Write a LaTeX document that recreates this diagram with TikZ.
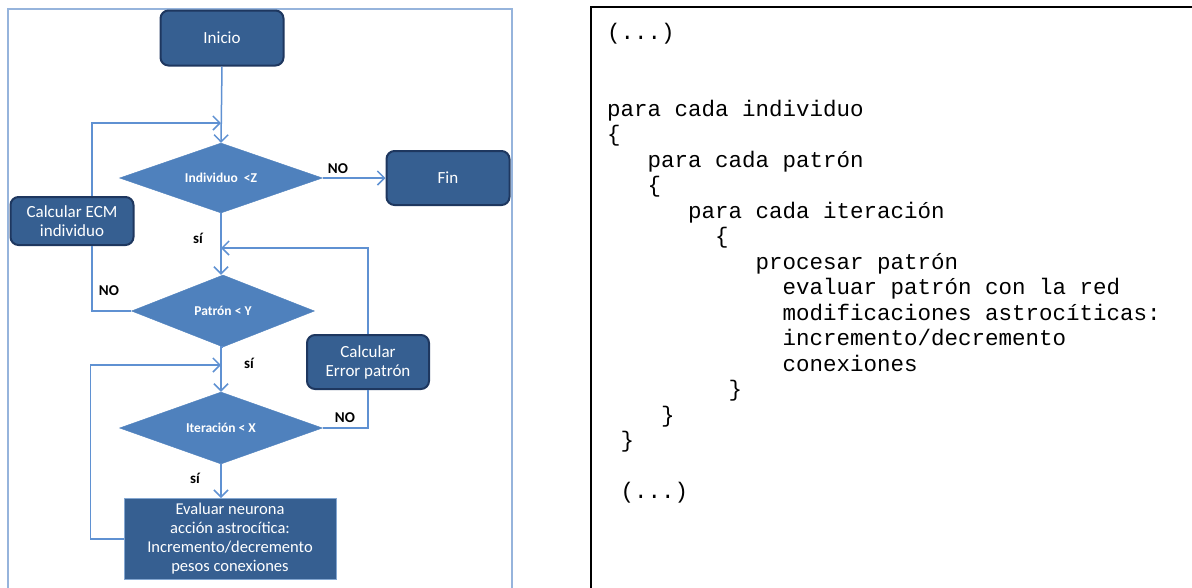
\documentclass[tikz,border=0pt]{standalone}
\usepackage{fontspec}
\setmainfont{Carlito}
\newfontfamily\codefont{Liberation Mono}
\usepackage{tikz}
\usetikzlibrary{positioning,calc,shapes.geometric,arrows.meta}
\definecolor{AzulOscuro}{RGB}{54,95,145}
\definecolor{AzulBorde}{RGB}{30,55,95}
\definecolor{AzulMedio}{RGB}{79,129,189}
\definecolor{AzulLinea}{RGB}{95,145,210}
\definecolor{AzulMarco}{RGB}{150,180,220}

\begin{document}
\begin{tikzpicture}[
		x=1pt, y=-1pt,
		caja/.style={draw=AzulBorde, line width=2pt, fill=AzulOscuro, rounded corners=8pt,
			text=white, align=center, font=\fontsize{17}{19}\selectfont},
		rombo/.style={diamond, draw=AzulMedio, fill=AzulMedio, inner sep=0pt, aspect=3,
			text=white, font=\bfseries\fontsize{13.5}{15}\selectfont},
		flecha/.style={draw=AzulLinea, line width=1.5pt, -{Straight Barb[length=7pt,width=14pt]}},
		linea/.style={draw=AzulLinea, line width=1.5pt},
		etiq/.style={font=\bfseries\fontsize{15}{17}\selectfont},
		codigo/.style={anchor=base west, inner sep=0pt, font=\codefont\fontsize{22.5}{25}\selectfont}
		]
		\useasboundingbox (0,0) rectangle (1192,587);
		
		% ===== marcos =====
		\draw[AzulMarco, line width=1.5pt] (8,600) -- (8,9) -- (512,9) -- (512,600);
		\draw[black, line width=1.5pt] (591,600) -- (591,7) -- (1200,7);
		
		% ===== diagrama de flujo =====
		\node[caja, minimum width=123pt, minimum height=55pt] (inicio) at (222,38) {Inicio};
		\node[rombo, minimum width=203pt, minimum height=70pt] (indiv) at (221,178) {Individuo \ <Z};
		\node[caja, minimum width=123pt, minimum height=54pt] (fin) at (448,178) {Fin};
		\node[caja, minimum width=123pt, minimum height=48pt] (ecm) at (72,221) {Calcular ECM\\individuo};
		\node[rombo, minimum width=183pt, minimum height=72pt] (patron) at (223,311) {Patrón < Y};
		\node[caja, minimum width=122pt, minimum height=54pt] (errpat) at (368,362) {Calcular\\Error patrón};
		\node[rombo, minimum width=203pt, minimum height=72pt] (iter) at (221,428) {Iteración < X};
		\node[draw=AzulMedio!70, line width=1pt, fill=AzulOscuro, text=white, align=center,
			font=\fontsize{16.5}{19}\selectfont, minimum width=212pt, minimum height=81pt]
			(evaluar) at (230,539) {Evaluar neurona\\acción astrocítica:\\Incremento/decremento\\pesos conexiones};
		
		\coordinate (j1) at (221,123);
		\coordinate (j2) at (221,248);
		\coordinate (j3) at (221,365);
		
		\draw[flecha] (inicio.south) -- (indiv.north);
		\draw[flecha] (indiv.east) -- (fin.west);
		\draw[flecha] (indiv.south) -- (indiv.south |- patron.north);
		\draw[flecha] (patron.south) -- (patron.south -| iter.north) -- (iter.north);
		\draw[flecha] (iter.south) -- (iter.south |- evaluar.north);
		
		% ===== lazos de retorno =====
		\draw[flecha] ($(ecm.north)+(20,0)$) |- (j1);
		\draw[linea] (patron.west) -| ($(ecm.south)+(20,0)$);
		\draw[flecha] (errpat.north) |- (j2);
		\draw[linea] (iter.east) -| (errpat.south);
		\draw[flecha] (evaluar.west) -- ++(-33,0) |- (j3);
		
		\node[etiq] (no1) at (338,169) {NO};
		\node[etiq] (si1) at (198,238) {sí};
		\node[etiq] (no2) at (109,291) {NO};
		\node[etiq] (si2) at (249,363) {sí};
		\node[etiq] (no3) at (345,418) {NO};
		\node[etiq] (si3) at (195,478) {sí};
		
		% ===== pseudocódigo =====
		\foreach \n/\ind/\txt in {0/0/{(...)}, 3/0/para cada individuo, 4/0/\{,
			5/3/para cada patrón, 6/3/\{, 7/6/para cada iteración, 8/8/\{,
			9/11/procesar patrón, 10/13/evaluar patrón con la red,
			11/13/modificaciones astrocíticas:, 12/13/{incremento/decremento},
			13/13/conexiones, 14/9/\}, 15/4/\}, 16/1/\}, 18/1/{(...)}}{
			\node[codigo] (c\n) at ({607+\ind*13.5},{39.5+\n*25.5}) {\txt};
		}
		
	\end{tikzpicture}
\end{document}
